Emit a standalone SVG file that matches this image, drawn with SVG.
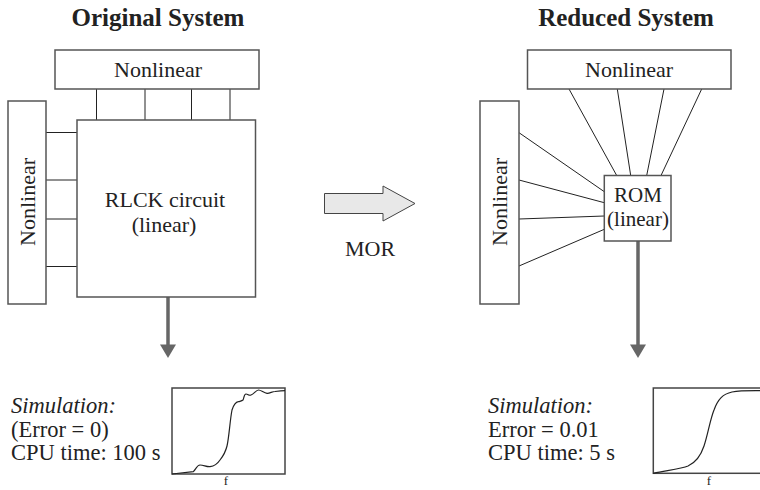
<svg xmlns="http://www.w3.org/2000/svg" width="760" height="490" viewBox="0 0 760 490" font-family="'Liberation Serif', 'Times New Roman', 'DejaVu Serif', serif">
<defs>
<style>
text{fill:#222}
.title{font-size:25px;font-weight:bold;text-anchor:middle}
.lbl{font-size:22px;text-anchor:middle}
.rom{font-size:21px;text-anchor:middle}
.sim{font-size:22.5px}
.box{fill:#fff;stroke:#555;stroke-width:1.5}
.wire{stroke:#222;stroke-width:1;fill:none}
.flow{stroke:#666;stroke-width:3.5;fill:none}
.head{fill:#666}
.plot{fill:#fff;stroke:#444;stroke-width:1.5}
.curve{fill:none;stroke:#222;stroke-width:1.2}
</style>
</defs>
<rect width="760" height="490" fill="#fff"/>
<text class="title" x="158" y="26">Original System</text>
<text class="title" x="626" y="26">Reduced System</text>

<g id="connectors">
<line class="wire" x1="96.5" y1="89" x2="96.5" y2="120"/>
<line class="wire" x1="145" y1="89" x2="145" y2="120"/>
<line class="wire" x1="191.5" y1="89" x2="191.5" y2="120"/>
<line class="wire" x1="230" y1="89" x2="230" y2="120"/>
<line class="wire" x1="46" y1="132.5" x2="77" y2="132.5"/>
<line class="wire" x1="46" y1="180" x2="77" y2="180"/>
<line class="wire" x1="46" y1="219" x2="77" y2="219"/>
<line class="wire" x1="46" y1="266.5" x2="77" y2="266.5"/>
<line class="wire" x1="569" y1="89" x2="616.7" y2="175.5"/>
<line class="wire" x1="617.3" y1="89" x2="630.7" y2="175.5"/>
<line class="wire" x1="664" y1="89" x2="646.7" y2="175.5"/>
<line class="wire" x1="701.7" y1="89" x2="661" y2="175.5"/>
<line class="wire" x1="519" y1="132.7" x2="604.3" y2="191.7"/>
<line class="wire" x1="519" y1="180" x2="604.3" y2="202.7"/>
<line class="wire" x1="519" y1="219" x2="604.3" y2="216"/>
<line class="wire" x1="519" y1="266" x2="604.3" y2="229.3"/>
<line class="flow" x1="168" y1="297" x2="168" y2="346"/>
<polygon class="head" points="160,344.5 176,344.5 168,358"/>
<line class="flow" x1="638" y1="241" x2="638" y2="346"/>
<polygon class="head" points="630,344.5 646,344.5 638,358"/>
<polygon points="324.5,193.5 383,193.5 383,186 415,203.5 383,221 383,213.5 324.5,213.5" fill="#e8e8e8" stroke="#444" stroke-width="1"/>
<text class="lbl" x="370" y="256">MOR</text>
</g>

<g id="orig-top-nonlinear">
<rect class="box" x="55" y="50" width="204" height="39"/>
<text class="lbl" x="158" y="77">Nonlinear</text>
</g>
<g id="orig-left-nonlinear">
<rect class="box" x="8" y="101" width="38" height="203"/>
<text class="lbl" transform="translate(35,202) rotate(-90)">Nonlinear</text>
</g>
<g id="rlck">
<rect class="box" x="77" y="120" width="178.5" height="177"/>
<text class="lbl" x="165" y="207">RLCK circuit</text>
<text class="lbl" x="164" y="232">(linear)</text>
</g>

<g id="red-top-nonlinear">
<rect class="box" x="527.5" y="50" width="203.5" height="39"/>
<text class="lbl" x="629" y="77">Nonlinear</text>
</g>
<g id="red-left-nonlinear">
<rect class="box" x="480" y="101" width="39" height="203"/>
<text class="lbl" transform="translate(507,202) rotate(-90)">Nonlinear</text>
</g>
<g id="rom">
<rect class="box" x="604.3" y="175.5" width="66.7" height="65.5"/>
<text class="rom" x="638" y="202">ROM</text>
<text class="rom" x="638" y="226">(linear)</text>
</g>

<g id="orig-sim">
<text class="sim" x="11" y="413" font-style="italic">Simulation:</text>
<text class="sim" x="11" y="437">(Error = 0)</text>
<text class="sim" x="11" y="460">CPU time: 100 s</text>
<rect class="plot" x="172" y="388" width="113" height="86"/>
<path class="curve" d="M172,474 L193.3,471.7 C196,469 197,465 200,465 C204,465 206,467 210,466.7 C215,466 218,463 220,460 C224,455 226,450 227,446 C229,438 230,420 232,410 C234,404 236,402 238.3,401.7 C241,401 242,401 243,400 C244,398 244,394 246,394 C248,394 249,396 251,395 C254,394 256,390 258.5,390 C261,390 264,393 267,393.3 C270,393.5 272,391.5 275,391.5 C279,391 282,390.7 285,390.7" stroke-width="1.6"/>
<text x="226" y="485" font-size="13" text-anchor="middle">f</text>
</g>

<g id="red-sim">
<text class="sim" x="488" y="413" font-style="italic">Simulation:</text>
<text class="sim" x="488" y="437">Error = 0.01</text>
<text class="sim" x="488" y="460">CPU time: 5 s</text>
<rect class="plot" x="653.3" y="388" width="110" height="85.3"/>
<path class="curve" d="M653.3,473.3 C670,470 682,468.5 688,466 C697,462 701,455 704,446 C708,434 710,420 714,410 C718,399 723,394 732,392 C740,390.5 750,390.7 760,390.7"/>
<text x="709" y="485" font-size="13" text-anchor="middle">f</text>
</g>
</svg>
